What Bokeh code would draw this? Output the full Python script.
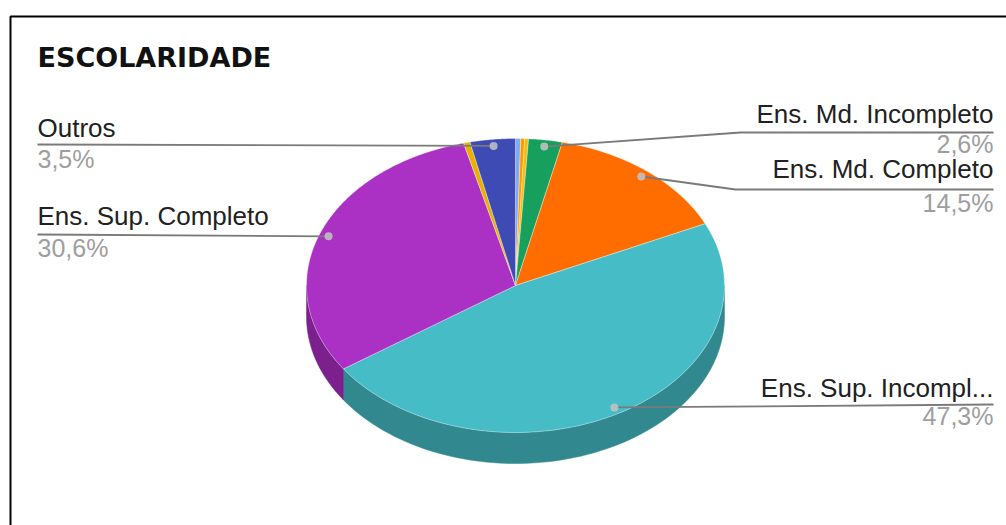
import numpy as np
from bokeh.plotting import figure
from bokeh.models import Range1d
from bokeh.core.properties import value
from bokeh.embed import file_html
from bokeh.resources import INLINE

# ---------------- data ----------------
categories = ["Ens. Fund. Incompleto", "Ens. Fund. Completo", "Analfabeto",
              "Ens. Md. Incompleto", "Ens. Md. Completo", "Ens. Sup. Incompleto",
              "Ens. Sup. Completo", "Pós-Graduação", "Outros"]
display_labels = ["", "", "", "Ens. Md. Incompleto", "Ens. Md. Completo",
                  "Ens. Sup. Incompl...", "Ens. Sup. Completo", "", "Outros"]
percents = [0.4, 0.3, 0.3, 2.6, 14.5, 47.3, 30.6, 0.5, 3.5]
top_colors = ["#7baaf7", "#ff9900", "#fbbc04", "#17a05d", "#ff6d00",
              "#46bdc6", "#ab30c4", "#e8b100", "#3e4bb5"]
side_colors = ["#5677ad", "#b26b00", "#b08303", "#106f41", "#b24c00",
               "#32888f", "#7b208d", "#a27c00", "#2b347e"]
title = "ESCOLARIDADE"

# ---------------- layout ----------------
W, H = 1006, 525
cx, cy, a, b, depth = 515.0, 285.0, 209.0, 147.0, 31.0
anchor_r = 0.955
TEXT_SHIFT = -10  # renderer baseline correction
label_layout = {
    "Ens. Md. Incompleto": dict(side="right", base=123, line=132, kink=740, pct=153),
    "Ens. Md. Completo": dict(side="right", base=178, line=189, kink=735, pct=212),
    "Ens. Sup. Incompleto": dict(side="right", base=397, line=404, kink=None, pct=425),
    "Ens. Sup. Completo": dict(side="left", base=225, line=234, kink=None, pct=257),
    "Outros": dict(side="left", base=137, line=144, kink=None, pct=168),
}
LEFT_X, RIGHT_X = 37, 993


def ell(theta_deg, r=1.0, dy=0.0):
    t = np.radians(theta_deg)
    return cx + a * r * np.sin(t), cy - b * r * np.cos(t) + dy


p = figure(width=W, height=H, x_range=Range1d(0, W), y_range=Range1d(H, 0),
           output_backend="svg", toolbar_location=None, min_border=0,
           x_axis_type=None, y_axis_type=None)
p.grid.visible = False
p.outline_line_color = None
p.background_fill_color = "white"
p.border_fill_color = "white"

# frame
p.line([10, 10, W], [H, 16, 16], line_color="black", line_width=2)

vals = np.array(percents, dtype=float)
fr = vals / vals.sum()
ends = np.cumsum(fr) * 360.0
starts = ends - fr * 360.0

# sides (only front half, 90..270 deg)
sx, sy, sc = [], [], []
for s, e, c in zip(starts, ends, side_colors):
    s0, s1 = max(s, 90.0), min(e, 270.0)
    if s1 <= s0:
        continue
    th = np.linspace(s0, s1, 80)
    xt, yt = ell(th)
    xb, yb = ell(th[::-1], dy=depth)
    sx.append(list(np.concatenate([xt, xb])))
    sy.append(list(np.concatenate([yt, yb])))
    sc.append(c)
p.patches(sx, sy, fill_color=sc, line_color=sc, line_width=0.5)

# top faces
tx, ty = [], []
for s, e in zip(starts, ends):
    th = np.linspace(s, e, max(3, int((e - s) * 2)))
    xe, ye = ell(th)
    tx.append([cx] + list(xe))
    ty.append([cy] + list(ye))
p.patches(tx, ty, fill_color=top_colors, line_color="white", line_alpha=0.35,
          line_width=1)

# labels
font = value("Liberation Sans")
for cat, lab, pct, s, e in zip(categories, display_labels, percents, starts, ends):
    if not lab:
        continue
    L = label_layout[cat]
    mid = (s + e) / 2.0
    axp, ayp = ell(mid, r=anchor_r)
    ptxt = f"{pct:.1f}".replace(".", ",") + "%"
    if L["side"] == "left":
        lx = [LEFT_X, axp]
        ly = [L["line"], ayp]
        tx0, align = LEFT_X, "left"
    else:
        if L["kink"] is None:
            lx = [axp, RIGHT_X]
            ly = [ayp, L["line"]]
        else:
            lx = [axp, L["kink"], RIGHT_X]
            ly = [ayp, L["line"], L["line"]]
        tx0, align = RIGHT_X, "right"
    p.line(lx, ly, line_color="#7a7a7a", line_width=1.8)
    p.scatter([axp], [ayp], size=8, fill_color="#c4c4c4", fill_alpha=0.85,
              line_color=None)
    p.text([tx0], [L["base"] + TEXT_SHIFT], text=[lab], text_align=align,
           text_baseline="alphabetic", text_font=font, text_font_size="26px",
           text_color="#212121")
    p.text([tx0], [L["pct"] + TEXT_SHIFT], text=[ptxt], text_align=align,
           text_baseline="alphabetic", text_font=font, text_font_size="25px",
           text_color="#9e9e9e")

# title
p.text([LEFT_X], [67 + TEXT_SHIFT], text=[title], text_align="left",
       text_baseline="alphabetic", text_font=value("DejaVu Sans"),
       text_font_style="bold", text_font_size="27px", text_color="#111111")

open("out.html", "w").write(file_html(p, INLINE))
